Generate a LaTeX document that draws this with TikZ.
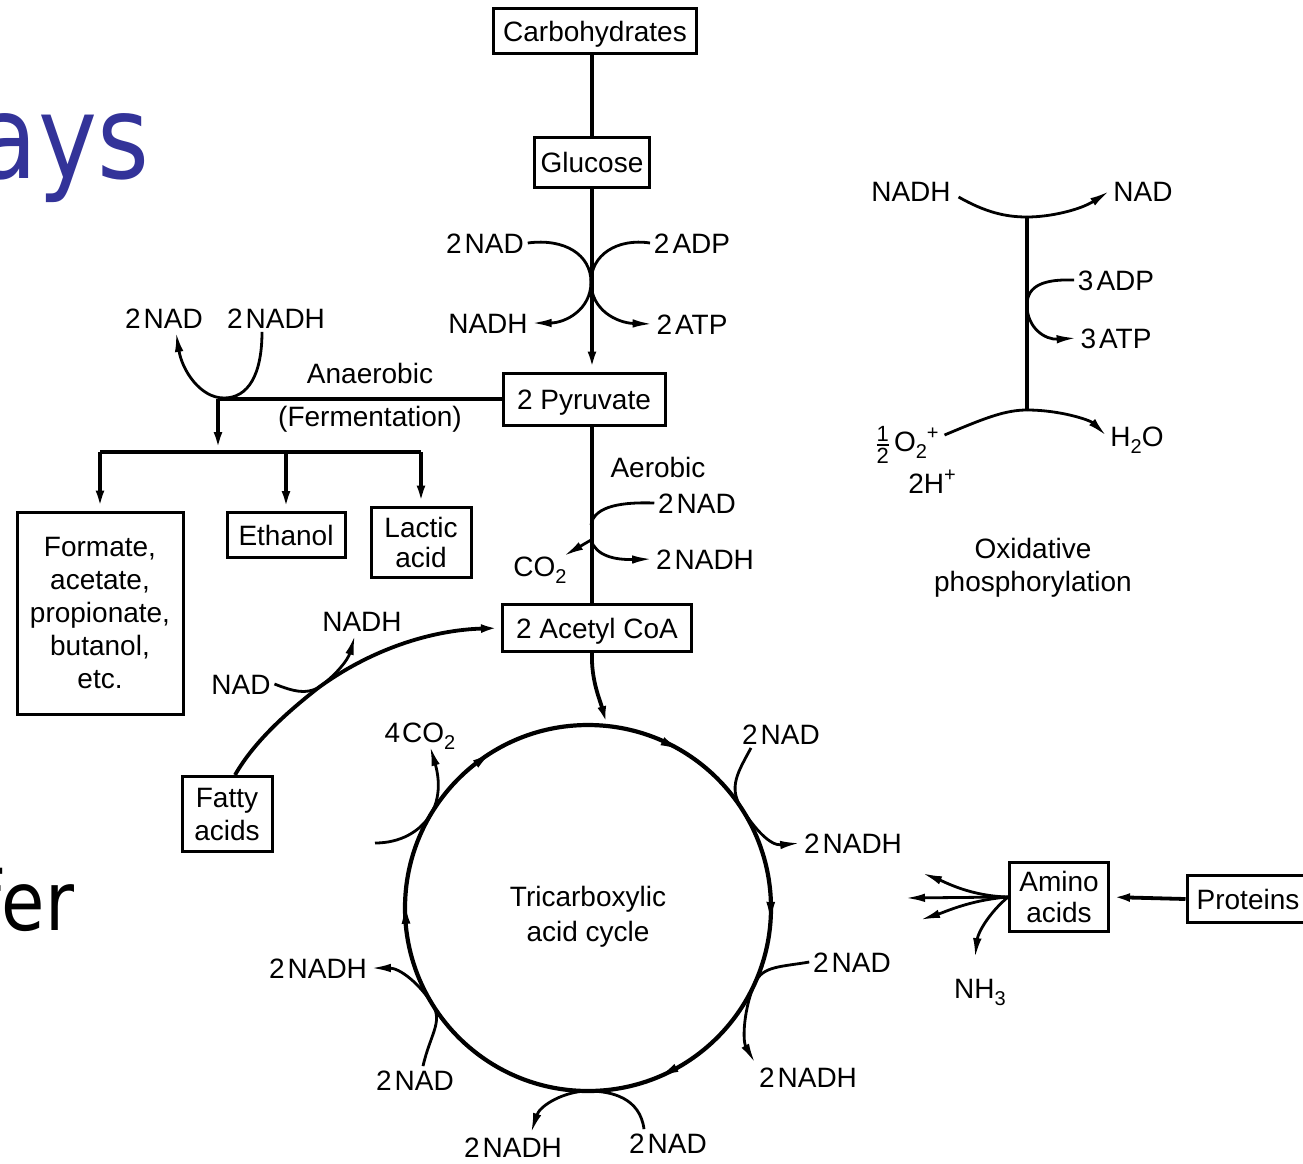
\documentclass[tikz,border=0pt]{standalone}
\usepackage{fontspec}
\setmainfont{Liberation Sans}
\newfontfamily\slidefont{DejaVu Sans}
\usetikzlibrary{arrows.meta,calc}
\newcommand\lf{\fontsize{28}{33}\selectfont}
\newcommand\dnx[1]{\raisebox{-0.28em}{\fontsize{20}{20}\selectfont #1}}
\newcommand\upx[1]{\raisebox{0.42em}{\fontsize{20}{20}\selectfont #1}}
\newcommand\tw{2\kern3pt}
\newcommand\fracdig[1]{\hbox{\fontsize{22}{22}\selectfont #1}}
\definecolor{slideblue}{RGB}{51,51,153}
\begin{document}
\begin{tikzpicture}[x=1pt,y=-1pt,line width=3.8pt,
  bx/.style={draw,line width=3pt,inner sep=0pt,font=\lf,align=center},
  bxs/.style={bx,text height=20pt,text depth=0pt},
  lbl/.style={inner sep=2pt,font=\lf,text height=20pt,text depth=0pt},
  arr/.style={-{Latex[length=20pt,width=8.5pt]}},
  side/.style={line width=2.8pt}]
\fill[white] (0,0) rectangle (1303,1163);
\useasboundingbox (0,0) rectangle (1303,1163);

% slide fragments
\node[anchor=base east,inner sep=0pt,font=\slidefont\fontsize{116}{120}\selectfont,text=slideblue] (ays) at (151,178) {\scalebox{0.86}[1]{ays}};
\node[anchor=base east,inner sep=0pt,font=\slidefont\fontsize{82}{84}\selectfont] (fer) at (76,930) {\scalebox{0.86}[1]{fer}};

% boxes
\node[bxs,minimum width=203pt,minimum height=45pt] (carb) at (595,31) {Carbohydrates};
\node[bxs,minimum width=115pt,minimum height=50pt] (glu) at (592,162) {Glucose};
\node[bxs,minimum width=162pt,minimum height=52pt] (pyr) at (584,399) {2 Pyruvate};
\node[bxs,minimum width=189pt,minimum height=47pt] (acoa) at (597,628) {2 Acetyl CoA};
\node[bx,minimum width=166pt,minimum height=202pt] (form) at (100,613) {Formate,\\acetate,\\propionate,\\butanol,\\etc.};
\node[bxs,minimum width=118pt,minimum height=45pt] (eth) at (286,535) {Ethanol};
\node[bx,minimum width=100pt,minimum height=70pt] (lac) at (421,542) {Lactic\\[-3pt]acid};
\node[bx,minimum width=90pt,minimum height=75pt] (fat) at (227,814) {Fatty\\acids};
\node[bx,minimum width=99pt,minimum height=69pt] (amino) at (1059,897) {Amino\\[-2pt]acids};
\node[bxs,minimum width=122pt,minimum height=47pt] (prot) at (1248,899) {Proteins};

% TCA circle
\node[draw,circle,line width=4.2pt,minimum size=366pt,inner sep=0pt,outer sep=0pt] (tca) at (588,908) {};
\node[font=\lf,align=center,inner sep=0pt] (tcat) at (588,917) {Tricarboxylic\\[2pt]acid cycle};

% labels glycolysis
\node[lbl] (gnad) at (485,243) {\tw NAD};
\node[lbl] (gnadh) at (488,323) {NADH};
\node[lbl] (gadp) at (692,243) {\tw ADP};
\node[lbl] (gatp) at (692,324) {\tw ATP};
% fermentation
\node[lbl] (fnad) at (164,318) {\tw NAD};
\node[lbl] (fnadh) at (276,318) {\tw NADH};
\node[lbl] (anae) at (370,373) {Anaerobic};
\node[lbl] (ferm) at (370,416) {(Fermentation)};
% aerobic
\node[lbl] (aero) at (658,467) {Aerobic};
\node[lbl] (anad) at (697,503) {\tw NAD};
\node[lbl] (anadh) at (705,559) {\tw NADH};
\node[lbl] (co2a) at (540,566) {CO\dnx{2}};
% fatty acids
\node[lbl] (fnadh2) at (362,621) {NADH};
\node[lbl] (fnad2) at (241,684) {NAD};
% cycle side labels
\node[lbl] (sco2) at (420,732) {4\kern2pt CO\dnx{2}};
\node[lbl] (snad1) at (781,734) {\tw NAD};
\node[lbl] (snadh1) at (853,843) {\tw NADH};
\node[lbl] (snad2) at (852,962) {\tw NAD};
\node[lbl] (snadh2) at (808,1077) {\tw NADH};
\node[lbl] (snad3) at (668,1143) {\tw NAD};
\node[lbl] (snadh3) at (513,1147) {\tw NADH};
\node[lbl] (snad4) at (415,1080) {\tw NAD};
\node[lbl] (snadh4) at (318,968) {\tw NADH};
% oxidative phosphorylation
\node[lbl] (onadh) at (911,191) {NADH};
\node[lbl] (onad) at (1143,191) {NAD};
\node[lbl] (oadp) at (1116,280) {3\kern3pt ADP};
\node[lbl] (oatp) at (1116,338) {3\kern3pt ATP};
\node[lbl] (oox) at (907,441) {$\fracdig{1}\above 2pt\fracdig{2}$\kern4pt O\dnx{2}\upx{+}};
\node[lbl] (oh) at (932,483) {2H\upx{+}};
\node[lbl] (oh2o) at (1137,436) {H\dnx{2}O};
\node[font=\lf,align=center,inner sep=0pt] (oxp) at (1033,568) {Oxidative\\phosphorylation};
% amino acids
\node[lbl] (nh3) at (980,988) {NH\dnx{3}};

% main line glycolysis
\draw (glu.north |- carb.south) -- (glu.north);
\draw[arr] (glu.south) -- (glu.south |- pyr.north);
\coordinate (gx) at (591,282);
\draw[side] (gnad.east) .. controls (565,238) and (591,255) .. (gx);
\draw[side,arr] (gx) .. controls (591,310) and (565,323) .. (gnadh.east);
\draw[side] (gadp.west) .. controls (617,238) and (591,255) .. (gx);
\draw[side,arr] (gx) .. controls (591,310) and (617,323) .. (gatp.west);

% fermentation
\coordinate (fj) at (218,399);
\coordinate (fb) at (218,452);
\coordinate (fu) at (224,398);
\draw (pyr.west) -- (fj);
\draw[arr] (fj) -- (fb);
\draw (form.north |- fb) -- (lac.north |- fb);
\draw[arr] (form.north |- fb) -- (form.north);
\draw[arr] (eth.north |- fb) -- (eth.north);
\draw[arr] (lac.north |- fb) -- (lac.north);
\draw[side] ([xshift=-14pt]fnadh.south) .. controls (262,375) and (248,398) .. (fu);
\draw[side,arr] (fu) .. controls (200,398) and (182,370) .. ([xshift=12pt]fnad.south);

% aerobic
\draw (pyr.south -| glu) -- (acoa.north -| glu);
\coordinate (at) at (591,525);
\coordinate (ab) at (591,540);
\draw[side] (anad.west) .. controls (625,502) and (594,505) .. (at);
\draw[side,arr] (ab) -- ($(co2a.north east)+(-7,4)$);
\draw[side,arr] (ab) .. controls (596,556) and (615,560) .. (anadh.west);

% acetyl CoA into cycle
\draw[arr] (acoa.south -| glu) .. controls (591,680) and (600,700) .. (tca.84.7);

% cycle direction arrowheads
\foreach \a in {62,-2.5,-65.5,181.4,124.6}{
  \draw[line width=2pt,-{Latex[length=19pt,width=9pt]}] (tca.\a+6) -- (tca.\a-2);
}

% side reactions on cycle
\draw[side] ([xshift=-30pt]snad1.south) .. controls (738,772) and (728,787) .. (tca.33);
\draw[side,arr] (tca.33) .. controls (755,829) and (770,846) .. (snadh1.west);
\draw[side] (snad2.west) .. controls (780,967) and (763,966) .. (tca.-24.5);
\draw[side,arr] (tca.-24.5) .. controls (744,1007) and (742,1040) .. (snadh2.north west);
\draw[side] ([xshift=-24pt]snad3.north) .. controls (640,1098) and (612,1091) .. (tca.-90);
\draw[side,arr] (tca.-90) .. controls (565,1091) and (540,1105) .. ([xshift=18pt]snadh3.north);
\draw[side] ([xshift=8pt]snad4.north) .. controls (430,1035) and (443,1022) .. (tca.212);
\draw[side,arr] (tca.212) .. controls (420,984) and (400,968) .. (snadh4.east);
\coordinate (cin) at (375,843);
\draw[side] (cin) .. controls (400,843) and (420,832) .. (tca.149.5);
\draw[side,arr] (tca.149.5) .. controls (443,793) and (437,770) .. ([xshift=10pt]sco2.south);

% fatty acids
\coordinate (fm) at (318,688);
\draw ([xshift=8pt]fat.north) .. controls (255,740) and (290,710) .. (fm);
\draw[arr] (fm) .. controls (370,650) and (430,630) .. (acoa.west);
\draw[side] (fnad2.east) .. controls (295,692) and (305,694) .. (fm);
\draw[side,arr] (fm) .. controls (335,676) and (348,660) .. ([xshift=-7pt]fnadh2.south);

% oxidative phosphorylation
\coordinate (o1) at (1027,217);
\coordinate (o2) at (1027,410);
\coordinate (o3) at (1027,305);
\draw (o1) -- (o2);
\draw[side] ($(onadh.east)+(4,6)$) .. controls (985,212) and (1005,217) .. (o1);
\draw[side,arr] (o1) .. controls (1050,217) and (1080,210) .. (onad.west);
\draw[side] (oadp.west) .. controls (1045,279) and (1027,285) .. (o3);
\draw[side,arr] (o3) .. controls (1027,328) and (1045,340) .. (oatp.west);
\draw[side] ($(oox.east)+(2,-6)$) .. controls (985,418) and (1005,410) .. (o2);
\draw[side,arr] (o2) .. controls (1060,410) and (1090,420) .. (oh2o.west);

% amino acids
\coordinate (aa1) at (905,898);
\coordinate (aa2) at (922,873);
\coordinate (aa3) at (920,920);
\draw[arr] (prot.west) -- (amino.east);
\draw[side,arr] (amino.west) -- (aa1);
\draw[side,arr] (amino.west) .. controls (970,896) and (945,882) .. (aa2);
\draw[side,arr] (amino.west) .. controls (970,900) and (945,912) .. (aa3);
\draw[side,arr] (amino.west) .. controls (990,912) and (978,932) .. ($(nh3.north)+(-5,-16)$);
\end{tikzpicture}
\end{document}
